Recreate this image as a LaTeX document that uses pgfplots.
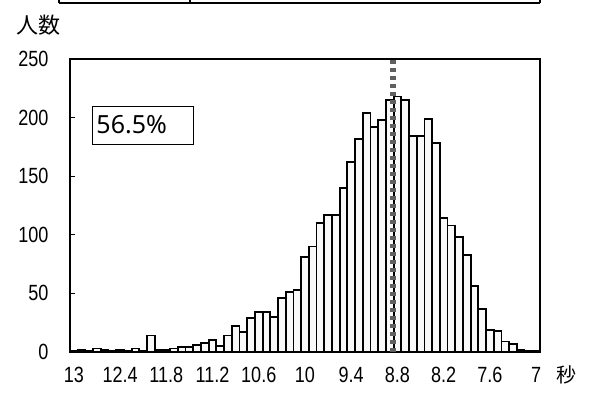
\documentclass[border=0pt]{standalone}
\usepackage{pgfplots}
\pgfplotsset{compat=1.18}
\usepackage{pgfplotstable}
\usepackage{fontspec}
\setmainfont{Liberation Sans}
\newfontfamily\narrowfont[FakeStretch=0.82]{Liberation Sans}
\newfontfamily\jpfont{Noto Sans CJK JP}
\newfontfamily\boxfont{Noto Sans}

% histogram: bin index (0 = 13.0 s ... 60 = 7.0 s), count
\pgfplotstableread{
bin count
0 1
1 2
2 1
3 3
4 2
5 1
6 2
7 1
8 3
9 1
10 14
11 2
12 2
13 3
14 4
15 4
16 6
17 8
18 10
19 5
20 14
21 22
22 17
23 29
24 34
25 34
26 30
27 46
28 51
29 53
30 81
31 90
32 110
33 117
34 117
35 140
36 162
37 182
38 204
39 192
40 198
41 215
42 218
43 215
44 184
45 184
46 199
47 178
48 114
49 108
50 98
51 83
52 56
53 37
54 19
55 18
56 9
57 7
58 2
59 1
60 1
}\histdata

\begin{document}
\begin{tikzpicture}
\useasboundingbox (-70pt,-44pt) rectangle (524pt,352pt);
% fragment of the table above the chart
\draw[line width=1.8pt] (-11pt,349pt) -- (470pt,349pt);
\draw[line width=1.5pt] (-11pt,349pt) -- (-11pt,354pt);
\draw[line width=1.5pt] (120pt,349pt) -- (120pt,354pt);
\draw[line width=1.5pt] (470pt,349pt) -- (470pt,354pt);
\begin{axis}[
    at={(0,0)}, anchor=south west,
    scale only axis,
    width=470pt, height=293pt,
    xmin=-0.5, xmax=60.5,
    ymin=0, ymax=250,
    xtick={0,6,...,60},
    xticklabels={13,12.4,11.8,11.2,10.6,10,9.4,8.8,8.2,7.6,7},
    ytick={0,50,...,250},
    xtick pos=bottom, ytick pos=left,
    major x tick style={draw=none},
    major y tick style={line width=1pt, black},
    tick align=inside,
    major tick length=5pt,
    axis line style={line width=1.6pt},
    /pgf/number format/assume math mode=true,
    ticklabel style={font=\narrowfont\fontsize{22}{22}\selectfont},
    yticklabel style={xshift=-18pt},
    xticklabel style={yshift=-12pt},
    clip=false,
]
\addplot[ybar, bar width=1, fill=gray!5, draw=black, line width=1.8pt]
    table[x=bin, y=count] {\histdata};
\addplot[gray!75!black, line width=5.5pt, dash pattern=on 4pt off 4pt]
    coordinates {(41.4,0) (41.4,250)};
\node[draw=black, line width=0.8pt, anchor=west, minimum height=38pt,
      text width=93pt, inner xsep=4pt, align=left,
      font=\boxfont\fontsize{25}{25}\selectfont]
    at (rel axis cs:0.047,0.775) {56.5\%};
\node[font=\jpfont\fontsize{22}{22}\selectfont]
    at ([shift={(-31pt,34pt)}]rel axis cs:0,1) {人数};
\node[font=\jpfont\fontsize{20}{20}\selectfont]
    at ([shift={(27pt,-23pt)}]rel axis cs:1,0) {秒};
\end{axis}
\end{tikzpicture}
\end{document}
